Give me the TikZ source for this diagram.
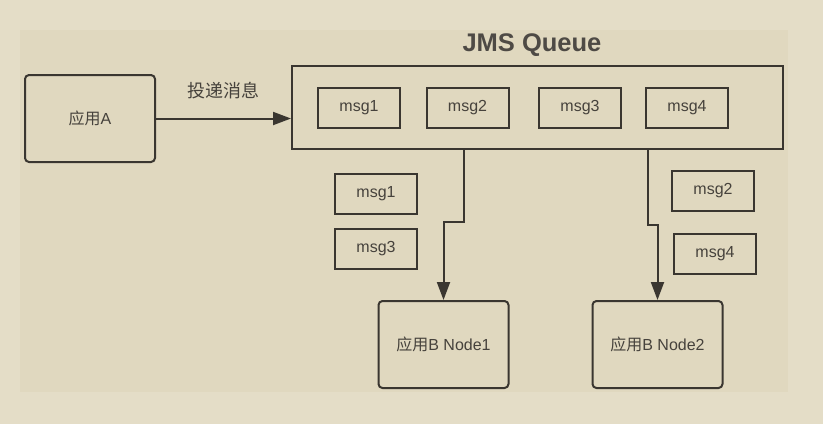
\documentclass[tikz,border=0pt]{standalone}
\usepackage{fontspec}
\setmainfont{Liberation Sans}
\newfontfamily\cjk{Noto Sans CJK SC}
\usetikzlibrary{arrows.meta}
\definecolor{outerbg}{RGB}{228,221,199}
\definecolor{innerbg}{RGB}{224,216,191}
\definecolor{ink}{RGB}{58,54,48}
\definecolor{txt}{RGB}{70,66,60}

\begin{document}
\begin{tikzpicture}[x=1pt,y=-1pt,
  box/.style={draw=ink,line width=2pt,inner sep=0pt,text=txt,font=\fontsize{16}{18}\selectfont},
  app/.style={box,rounded corners=4pt,minimum width=130pt,minimum height=87pt},
  msgbox/.style={box,minimum width=82pt,minimum height=40pt},
  arr/.style={draw=ink,line width=2pt,-{Triangle[length=18pt,width=13pt]}}]
\useasboundingbox[fill=outerbg] (0,0) rectangle (823,424);
\fill[innerbg] (20,30) rectangle (788,392);

\node[app] (appa) at (90,118.5) {{\cjk 应用}A};
\node[box,minimum width=491pt,minimum height=83pt] (queue) at (537.5,107.5) {};
\node[text=ink!90,font=\fontsize{25.5}{28}\selectfont\bfseries] (title) at (532,45) {JMS Queue};
\node[msgbox] (q1) at (359,108) {msg1};
\node[msgbox] (q2) at (467.5,108) {msg2};
\node[msgbox] (q3) at (580,108) {msg3};
\node[msgbox] (q4) at (687,108) {msg4};
\node[msgbox] (b1m1) at (376,193.5) {msg1};
\node[msgbox] (b1m3) at (376,248.5) {msg3};
\node[msgbox] (b2m2) at (713,190.5) {msg2};
\node[msgbox] (b2m4) at (715,253.5) {msg4};
\node[app] (nodeb1) at (443.5,344.5) {{\cjk 应用}B Node1};
\node[app] (nodeb2) at (657.5,344.5) {{\cjk 应用}B Node2};
\coordinate (s1) at (464,148);
\coordinate (s2) at (648,150);

\draw[arr] (appa.east) -- (appa.east -| queue.west) node[midway,above=19pt,inner sep=0pt,text=txt,font=\fontsize{18}{20}\selectfont\cjk] {投递消息};
\draw[arr] (s1) -- ++(0,74) -| (nodeb1.north);
\draw[arr] (s2) -- ++(0,75) -| (nodeb2.north);
\end{tikzpicture}
\end{document}
